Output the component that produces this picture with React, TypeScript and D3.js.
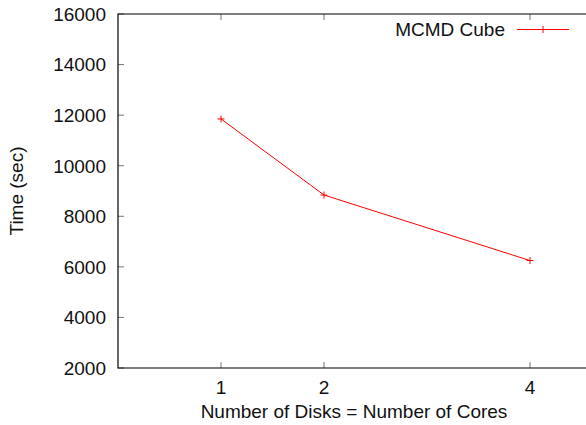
import React from "react";
import * as d3 from "d3";

const disks = [1, 2, 4];
const times = [11850, 8840, 6250];
const xTicks = [1, 2, 4];
const yTicks = [2000, 4000, 6000, 8000, 10000, 12000, 14000, 16000];
const seriesName = "MCMD Cube";

const W = 586;
const H = 425;
const left = 118;
const top = 14;
const bottom = 368;
const right = 586;
const font = "'Liberation Sans', Arial, sans-serif";
const red = "#ff0000";
const fs = 19;

export default function App() {
  const x = d3.scaleLinear().domain([0, 1]).range([left, 221]);
  const y = d3.scaleLinear().domain([2000, 16000]).range([bottom, top]);
  const pts = disks.map((d, i) => [x(d), y(times[i])] as [number, number]);
  const line = d3.line()(pts) || "";
  const plus = (cx: number, cy: number, k: string) => (
    <path key={k} d={`M${cx - 3.5},${cy}H${cx + 3.5}M${cx},${cy - 3.5}V${cy + 3.5}`} stroke={red} strokeWidth={1} />
  );
  return (
    <svg width={W} height={H} style={{ position: "absolute", left: 0, top: 0, background: "#fff" }} fontFamily={font}>
      <rect width={W} height={H} fill="#fff" />
      {yTicks.map((t) => (
        <g key={t}>
          <line x1={left} x2={left + 6} y1={y(t)} y2={y(t)} stroke="#777" />
          <text x={left - 12} y={y(t)} dy="0.36em" textAnchor="end" fontSize={fs} fill="#111">{t}</text>
        </g>
      ))}
      {xTicks.map((t) => (
        <g key={t}>
          <line x1={x(t)} x2={x(t)} y1={bottom} y2={bottom - 6} stroke="#777" />
          <line x1={x(t)} x2={x(t)} y1={top} y2={top + 6} stroke="#777" />
          <text x={x(t)} y={bottom + 26} textAnchor="middle" fontSize={fs} fill="#111">{t}</text>
        </g>
      ))}
      <path d={`M${right},${top}H${left}V${bottom}H${right}`} fill="none" stroke="#000" strokeWidth={1.2} />
      <path d={line} fill="none" stroke={red} strokeWidth={1} />
      {pts.map((p, i) => plus(p[0], p[1], "m" + i))}
      <text x={505} y={36} textAnchor="end" fontSize={fs} fill="#111">{seriesName}</text>
      <line x1={517} x2={569} y1={29.5} y2={29.5} stroke={red} />
      {plus(543, 29.5, "leg")}
      <text x={354} y={418} textAnchor="middle" fontSize={fs} fill="#111">Number of Disks = Number of Cores</text>
      <text transform={`translate(23,${(top + bottom) / 2}) rotate(-90)`} textAnchor="middle" fontSize={fs} fill="#111">Time (sec)</text>
    </svg>
  );
}
